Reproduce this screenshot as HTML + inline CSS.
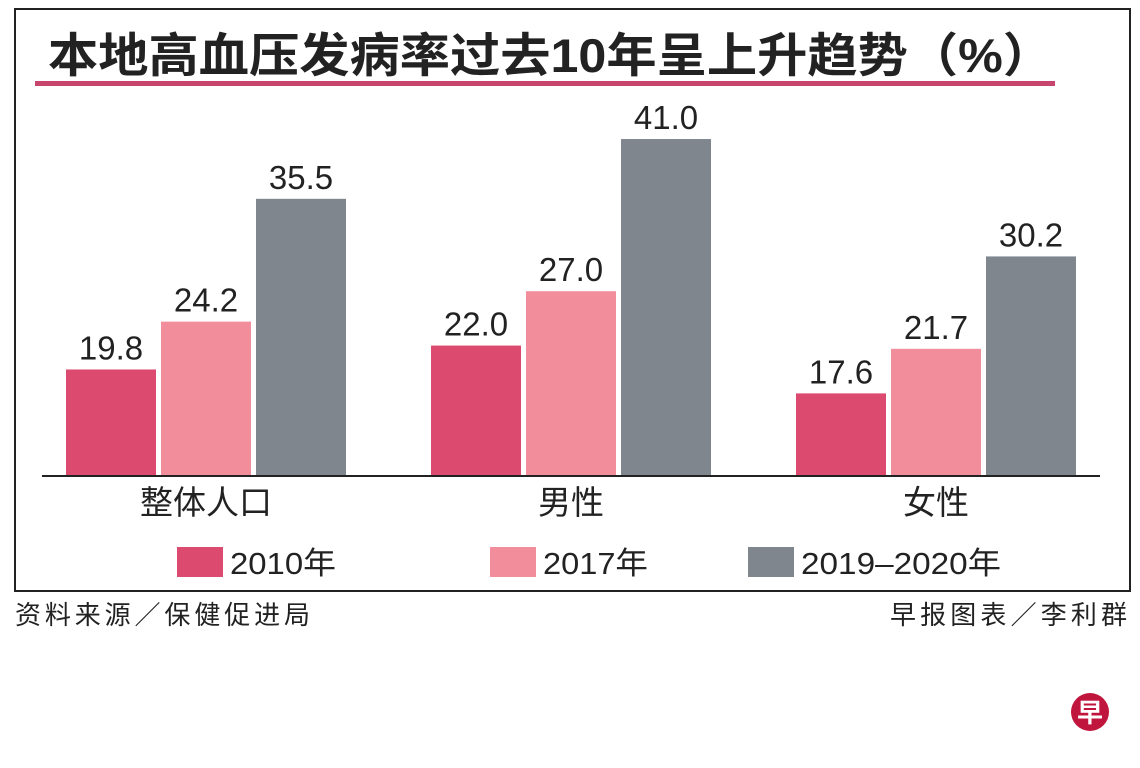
<!DOCTYPE html>
<html><head><meta charset="utf-8"><style>
body{margin:0;background:#fff;width:1140px;height:763px;overflow:hidden;font-family:"Liberation Sans","Noto Sans CJK SC",sans-serif;}
</style></head><body>
<svg width="1140" height="763" xmlns="http://www.w3.org/2000/svg">
<rect x="15" y="9" width="1115" height="582" fill="none" stroke="#222" stroke-width="2"/>
<text x="48" y="72" font-size="47" font-weight="bold" fill="#222" textLength="1005" lengthAdjust="spacingAndGlyphs" font-family="Liberation Sans,Noto Sans CJK SC,sans-serif">本地高血压发病率过去10年呈上升趋势（%）</text>
<rect x="35" y="81" width="1020" height="5" fill="#c8456e"/>
<g id="bars"></g>
<line x1="42" y1="476" x2="1100" y2="476" stroke="#222" stroke-width="2"/>
<g id="legend"></g>
<text x="15" y="624" font-size="26" fill="#222" textLength="295" lengthAdjust="spacing">资料来源／保健促进局</text>
<text x="890" y="624" font-size="26" fill="#222" textLength="237" lengthAdjust="spacing">早报图表／李利群</text>
<circle cx="1090" cy="712" r="19" fill="#c0163e"/>
<text x="1090" y="722" font-size="26" font-weight="bold" fill="#fff" text-anchor="middle">早</text>
</svg>
<script>
const categories=["整体人口","男性","女性"];
const seriesNames=["2010年","2017年","2019–2020年"];
const s2010=[19.8,22.0,17.6];
const s2017=[24.2,27.0,21.7];
const s2019=[35.5,41.0,30.2];
const colors=["#dc4b6f","#f28e9c","#7f868e"];
const NS="http://www.w3.org/2000/svg";
const base=476,vmin=10,ppu=10.87;
function y(v){return base-(v-vmin)*ppu;}
function gx(i){return 66+i*365;}
const bw=90,step=95;
const g=document.getElementById('bars');
const all=[s2010,s2017,s2019];
categories.forEach((c,i)=>{
  all.forEach((s,j)=>{
    const x=gx(i)+j*step;
    const r=document.createElementNS(NS,'rect');
    r.setAttribute('x',x);r.setAttribute('y',y(s[i]));
    r.setAttribute('width',bw);r.setAttribute('height',base-y(s[i]));
    r.setAttribute('fill',colors[j]);
    
    
    g.appendChild(r);
    const t=document.createElementNS(NS,'text');
    t.setAttribute('x',x+bw/2);t.setAttribute('y',y(s[i])-10);
    t.setAttribute('text-anchor','middle');t.setAttribute('font-size','33');t.setAttribute('fill','#222');
    t.textContent=s[i].toFixed(1);
    
    
    g.appendChild(t);
  });
  const t=document.createElementNS(NS,'text');
  t.setAttribute('x',gx(i)+step+bw/2);t.setAttribute('y',514);
  t.setAttribute('text-anchor','middle');t.setAttribute('font-size','33');t.setAttribute('fill','#222');
  t.textContent=c;
  
  
  g.appendChild(t);
});
const lg=document.getElementById('legend');
const lx=[177,490,748];
const lw=[106,105,200];
seriesNames.forEach((n,j)=>{
  const r=document.createElementNS(NS,'rect');
  r.setAttribute('x',lx[j]);r.setAttribute('y',547);r.setAttribute('width',46);r.setAttribute('height',30);
  r.setAttribute('fill',colors[j]);
  
  
  lg.appendChild(r);
  const t=document.createElementNS(NS,'text');
  t.setAttribute('x',lx[j]+53);t.setAttribute('y',574);t.setAttribute('font-size','31');t.setAttribute('fill','#222');
  t.setAttribute('textLength',lw[j]);t.setAttribute('lengthAdjust','spacingAndGlyphs');
  t.textContent=n;
  
  
  lg.appendChild(t);
});
</script>
</body></html>
